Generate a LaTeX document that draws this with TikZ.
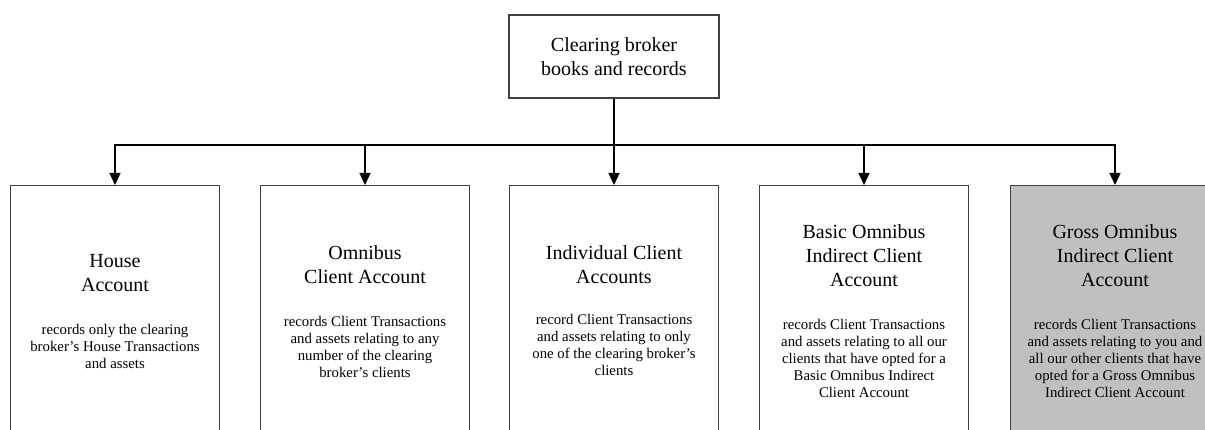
\documentclass[tikz,border=0pt]{standalone}
\usepackage{fontspec}
\setmainfont{Liberation Serif}
\usetikzlibrary{arrows.meta}
\definecolor{shade}{RGB}{192,192,192}
\definecolor{edge}{RGB}{64,64,64}
\tikzset{
  acct/.style={draw=edge, line width=1.1pt, minimum width=209pt, minimum height=255pt, anchor=north, inner sep=0pt},
  topbox/.style={draw=edge, line width=1.1pt, minimum width=210pt, minimum height=83pt, inner sep=0pt, align=center, font=\fontsize{20}{24}\selectfont},
  ttl/.style={anchor=north, align=center, inner sep=0pt, font=\fontsize{20}{24}\selectfont},
  body/.style={anchor=north, align=center, inner sep=0pt, font=\fontsize{14.8}{17}\selectfont},
  conn/.style={line width=1.3pt, -{Triangle[width=11pt,length=12pt]}},
}
\begin{document}
\begin{tikzpicture}
\useasboundingbox (0,0) rectangle (1205pt,-430pt);
\clip (0,0) rectangle (1205pt,-430pt);

\node[topbox] (top) at (614pt,-56.5pt) {Clearing broker\\books and records};

\node[acct] (b1) at (115pt,-185pt) {};
\node[acct] (b2) at (365pt,-185pt) {};
\node[acct] (b3) at (614pt,-185pt) {};
\node[acct] (b4) at (864pt,-185pt) {};
\node[acct, fill=shade] (b5) at (1115pt,-185pt) {};

\coordinate (bus) at (0,-145pt);

\draw[conn] (top.south) -- (b3.north);
\draw[conn] (top.south |- bus) -| (b1.north);
\draw[conn] (top.south |- bus) -| (b2.north);
\draw[conn] (top.south |- bus) -| (b4.north);
\draw[conn] (top.south |- bus) -| (b5.north);

\node[ttl] (t1) at (115pt,-254.3pt) {House\\Account};
\node[ttl] (t2) at (365pt,-245.3pt) {Omnibus\\Client Account};
\node[ttl] (t3) at (614pt,-245.3pt) {Individual Client\\Accounts};
\node[ttl] (t4) at (864pt,-224.3pt) {Basic Omnibus\\Indirect Client\\Account};
\node[ttl] (t5) at (1115pt,-224.3pt) {Gross Omnibus\\Indirect Client\\Account};

\node[body] (d1) at (115pt,-324.1pt) {records only the clearing\\broker’s House Transactions\\and assets};
\node[body] (d2) at (365pt,-316.1pt) {records Client Transactions\\and assets relating to any\\number of the clearing\\broker’s clients};
\node[body] (d3) at (614pt,-314.1pt) {record Client Transactions\\and assets relating to only\\one of the clearing broker’s\\clients};
\node[body] (d4) at (864pt,-319.1pt) {records Client Transactions\\and assets relating to all our\\clients that have opted for a\\Basic Omnibus Indirect\\Client Account};
\node[body] (d5) at (1115pt,-319.1pt) {records Client Transactions\\and assets relating to you and\\all our other clients that have\\opted for a Gross Omnibus\\Indirect Client Account};
\end{tikzpicture}
\end{document}
